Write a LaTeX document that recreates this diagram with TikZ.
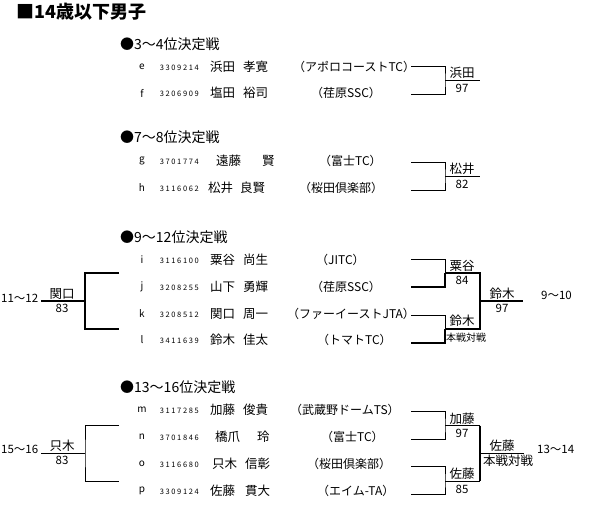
\documentclass[tikz,border=0pt]{standalone}
\usepackage{fontspec}
\setmainfont{Noto Sans CJK JP}
\begin{document}
\begin{tikzpicture}[x=1pt, y=-1pt,
    heading/.style={anchor=west, inner sep=0pt, font=\fontsize{18}{18}\selectfont\bfseries},
    head/.style={anchor=west, inner sep=0pt, font=\fontsize{14}{14}\selectfont},
    letter/.style={inner sep=0pt, font=\fontsize{10}{10}\selectfont},
    pid/.style={anchor=east, inner sep=0pt, font=\fontsize{7.5}{7.5}\selectfont\addfontfeature{LetterSpace=22}},
    pname/.style={anchor=west, inner sep=0pt, font=\fontsize{12.5}{12.5}\selectfont},
    club/.style={anchor=west, inner sep=0pt, font=\fontsize{12}{12}\selectfont},
    wname/.style={inner sep=0pt, font=\fontsize{12.5}{12.5}\selectfont},
    score/.style={inner sep=0pt, font=\fontsize{11.5}{11.5}\selectfont},
    note/.style={anchor=west, inner sep=0pt, font=\fontsize{10}{10}\selectfont},
    rank/.style={anchor=west, inner sep=0pt, font=\fontsize{11.5}{11.5}\selectfont},
    bline/.style={line width=1pt},
    bthick/.style={line width=2pt}
]
    \useasboundingbox (0,0) rectangle (589,517);

    % Title
    \node (title) [heading] at (16,12) {■14歳以下男子};

    % 3~4 place
    \node (h34) [head] at (120,44) {●3～4位決定戦};
    \node (e_let) [letter] at (142,67) {e};
    \node (e_id) [pid] at (199,68) {3309214};
    \node (e_sur) [pname] at (210,67) {浜田};
    \node (e_giv) [pname] at (243,67) {孝寛};
    \node (e_club) [club] at (293,67) {（アポロコーストTC）};
    \node (f_let) [letter] at (142,93) {f};
    \node (f_id) [pid] at (199,94) {3206909};
    \node (f_sur) [pname] at (210,93) {塩田};
    \node (f_giv) [pname] at (243,93) {裕司};
    \node (f_club) [club] at (311,93) {（荏原SSC）};

    \coordinate (e_end) at (411,66);
    \coordinate (f_end) at (411,94);
    \coordinate (ef_j) at (445,80);
    \coordinate (ef_win) at (480,80);
    \draw [bline] (e_end) -| (ef_j) |- (f_end);
    \draw [bline] (ef_j) -- (ef_win);
    \node (ef_wname) [wname] at (462,73) {浜田};
    \node (ef_score) [score] at (462,88) {97};

    % 7~8 place
    \node (h78) [head] at (120,137) {●7～8位決定戦};
    \node (g_let) [letter] at (142,161) {g};
    \node (g_id) [pid] at (199,162) {3701774};
    \node (g_sur) [pname] at (216,161) {遠藤};
    \node (g_giv) [pname] at (262,161) {賢};
    \node (g_club) [club] at (319,161) {（富士TC）};
    \node (h_let) [letter] at (142,188) {h};
    \node (h_id) [pid] at (199,189) {3116062};
    \node (h_sur) [pname] at (208,188) {松井};
    \node (h_giv) [pname] at (240,188) {良賢};
    \node (h_club) [club] at (299,188) {（桜田倶楽部）};

    \coordinate (g_end) at (411,162);
    \coordinate (h_end) at (411,190);
    \coordinate (gh_j) at (445,176);
    \coordinate (gh_win) at (480,176);
    \draw [bline] (g_end) -| (gh_j) |- (h_end);
    \draw [bline] (gh_j) -- (gh_win);
    \node (gh_wname) [wname] at (462,169) {松井};
    \node (gh_score) [score] at (462,184) {82};

    % 9~12 place
    \node (h912) [head] at (120,237) {●9～12位決定戦};
    \node (i_let) [letter] at (142,260) {i};
    \node (i_id) [pid] at (199,261) {3116100};
    \node (i_sur) [pname] at (210,260) {粟谷};
    \node (i_giv) [pname] at (243,260) {尚生};
    \node (i_club) [club] at (316,260) {（JITC）};
    \node (j_let) [letter] at (142,287) {j};
    \node (j_id) [pid] at (199,288) {3208255};
    \node (j_sur) [pname] at (210,287) {山下};
    \node (j_giv) [pname] at (243,287) {勇輝};
    \node (j_club) [club] at (311,287) {（荏原SSC）};
    \node (k_let) [letter] at (142,314) {k};
    \node (k_id) [pid] at (199,315) {3208512};
    \node (k_sur) [pname] at (210,314) {関口};
    \node (k_giv) [pname] at (243,314) {周一};
    \node (k_club) [club] at (287,314) {（ファーイーストJTA）};
    \node (l_let) [letter] at (142,340) {l};
    \node (l_id) [pid] at (199,341) {3411639};
    \node (l_sur) [pname] at (210,340) {鈴木};
    \node (l_giv) [pname] at (243,340) {佳太};
    \node (l_club) [club] at (317,340) {（トマトTC）};

    \coordinate (i_end) at (411,259.5);
    \coordinate (j_end) at (411,287);
    \coordinate (k_end) at (411,315.5);
    \coordinate (l_end) at (411,342.5);
    \coordinate (ij_j) at (445,273);
    \coordinate (ij_win) at (480,273);
    \coordinate (kl_j) at (445,328.5);
    \coordinate (kl_win) at (480,328.5);
    \coordinate (fin_j) at (480,301);
    \coordinate (fin_win) at (523,301);
    \draw [bline] (i_end) -| (ij_j);
    \draw [bthick] (ij_j) |- (j_end);
    \draw [bline] (k_end) -| (kl_j);
    \draw [bthick] (kl_j) |- (l_end);
    \draw [bthick] (ij_j) -- (ij_win) -- (kl_win) -- (kl_j);
    \draw [bthick] (fin_j) -- (fin_win);
    \node (ij_wname) [wname] at (462,265.5) {粟谷};
    \node (ij_score) [score] at (462,280) {84};
    \node (kl_wname) [wname] at (462,321) {鈴木};
    \node (kl_note) [note] at (446,337.5) {本戦対戦};
    \node (fin_wname) [wname] at (502,293.5) {鈴木};
    \node (fin_score) [score] at (502,308) {97};
    \node (fin_rank) [rank] at (541,295) {9～10};

    \coordinate (lb_top) at (119,273);
    \coordinate (lb_bot) at (119,328.5);
    \coordinate (lb_j) at (85,301);
    \coordinate (lb_out) at (41,301);
    \draw [bthick] (lb_top) -| (lb_j) |- (lb_bot);
    \draw [bthick] (lb_j) -- (lb_out);
    \node (lb_wname) [wname] at (62,294) {関口};
    \node (lb_score) [score] at (62,308) {83};
    \node (lb_rank) [rank] at (1,298) {11～12};

    % 13~16 place
    \node (h1316) [head] at (120,387) {●13～16位決定戦};
    \node (m_let) [letter] at (142,410) {m};
    \node (m_id) [pid] at (199,411) {3117285};
    \node (m_sur) [pname] at (210,410) {加藤};
    \node (m_giv) [pname] at (243,410) {俊貴};
    \node (m_club) [club] at (290,410) {（武蔵野ドームTS）};
    \node (n_let) [letter] at (142,437) {n};
    \node (n_id) [pid] at (199,438) {3701846};
    \node (n_sur) [pname] at (215,437) {橋爪};
    \node (n_giv) [pname] at (257,437) {玲};
    \node (n_club) [club] at (321,437) {（富士TC）};
    \node (o_let) [letter] at (142,464) {o};
    \node (o_id) [pid] at (199,465) {3116680};
    \node (o_sur) [pname] at (212,464) {只木};
    \node (o_giv) [pname] at (245,464) {信彰};
    \node (o_club) [club] at (307,464) {（桜田倶楽部）};
    \node (p_let) [letter] at (142,491) {p};
    \node (p_id) [pid] at (199,492) {3309124};
    \node (p_sur) [pname] at (210,491) {佐藤};
    \node (p_giv) [pname] at (245,491) {貫大};
    \node (p_club) [club] at (317,491) {（エイム-TA）};

    \coordinate (m_end) at (411,411);
    \coordinate (n_end) at (411,439);
    \coordinate (o_end) at (411,466.5);
    \coordinate (p_end) at (411,494.5);
    \coordinate (mn_j) at (445,425.5);
    \coordinate (mn_win) at (480,425.5);
    \coordinate (op_j) at (445,481);
    \coordinate (op_win) at (480,481);
    \coordinate (fin2_j) at (480,453);
    \coordinate (fin2_win) at (524,453);
    \draw [bline] (m_end) -| (mn_j) |- (n_end);
    \draw [bline] (o_end) -| (op_j) |- (p_end);
    \draw [bline] (mn_j) -- (mn_win);
    \draw [bline] (op_j) -- (op_win);
    \draw [bthick] (mn_win) -- (op_win);
    \draw [bline] (fin2_j) -- (fin2_win);
    \node (mn_wname) [wname] at (462,418.5) {加藤};
    \node (mn_score) [score] at (462,433) {97};
    \node (op_wname) [wname] at (462,474) {佐藤};
    \node (op_score) [score] at (462,489) {85};
    \node (fin2_wname) [wname] at (502,446) {佐藤};
    \node (fin2_note) [wname] at (508,461) {本戦対戦};
    \node (fin2_rank) [rank] at (537,449) {13～14};

    \coordinate (lb2_top) at (119,425.5);
    \coordinate (lb2_bot) at (119,481);
    \coordinate (lb2_j) at (85,453.5);
    \coordinate (lb2_out) at (41,453.5);
    \draw [bline] (lb2_top) -| (lb2_j) |- (lb2_bot);
    \draw [bline] (lb2_j) -- (lb2_out);
    \node (lb2_wname) [wname] at (62,446) {只木};
    \node (lb2_score) [score] at (62,460) {83};
    \node (lb2_rank) [rank] at (1,449) {15～16};
\end{tikzpicture}
\end{document}
